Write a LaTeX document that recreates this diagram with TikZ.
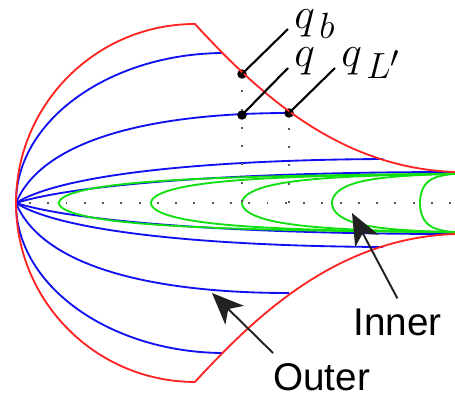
\documentclass[tikz,border=0pt]{standalone}
\usepackage{fontspec}
\newfontfamily\calloutfont{Liberation Sans}
\usetikzlibrary{arrows.meta}
\usepackage{xcolor}
\definecolor{boundred}{HTML}{FF2424}
\definecolor{outerblue}{HTML}{1010F0}
\definecolor{innergreen}{HTML}{10E010}
\definecolor{arrowgray}{HTML}{222222}

\begin{document}
\begin{tikzpicture}[x=0.02cm, y=-0.02cm,
    boundary/.style={draw=boundred, line width=1.05pt},
    outerpath/.style={draw=outerblue, line width=1.05pt},
    innerpath/.style={draw=innergreen, line width=1.05pt},
    axisdots/.style={draw=black!65, line width=1.1pt, dash pattern=on 1.1pt off 9.3pt, dash phase=3pt},
    qdot/.style={circle, fill=black, inner sep=0pt, minimum size=5.4pt},
    qlabel/.style={inner sep=0pt, font=\fontsize{24.88}{30}\selectfont},
    pointer/.style={draw=black, line width=1.2pt},
    callout/.style={inner sep=0pt, font=\calloutfont\fontsize{22}{26}\selectfont},
    calloutarrow/.style={draw=arrowgray, line width=1.1pt, -{Stealth[length=18pt, width=15pt, inset=5pt]}}]
  \useasboundingbox (0,0) rectangle (455,396);
  % Corners of the region
  \coordinate (O)  at (16,203);
  \coordinate (T)  at (195,24);
  \coordinate (TR) at (455,172);
  \coordinate (BR) at (455,234);
  \coordinate (E)  at (455,203);
  % Outer curves (blue) -- upper half
  \draw[outerpath] (O) .. controls (16,120) and (110,54)  .. (222,53);
  \draw[outerpath] (O) .. controls (42,140) and (150,113) .. (289,113);
  \draw[outerpath] (O) .. controls (60,175) and (200,160) .. (383,159);
  \draw[outerpath] (O) .. controls (80,183) and (250,172) .. (TR);
  % Outer curves (blue) -- lower half
  \draw[outerpath] (O) .. controls (16,286) and (110,352) .. (222,353);
  \draw[outerpath] (O) .. controls (42,266) and (150,293) .. (289,293);
  \draw[outerpath] (O) .. controls (60,231) and (200,246) .. (383,247);
  \draw[outerpath] (O) .. controls (80,223) and (250,234) .. (BR);
  % Inner curves (green)
  \draw[innerpath] plot[domain=-1:1, samples=81] ({59+396*\x*\x},  {203-31*tanh(1.75*\x)});
  \draw[innerpath] plot[domain=-1:1, samples=81] ({151+304*\x*\x}, {203-31*tanh(1.75*\x)});
  \draw[innerpath] plot[domain=-1:1, samples=81] ({242+213*\x*\x}, {203-31*tanh(1.75*\x)});
  \draw[innerpath] plot[domain=-1:1, samples=81] ({332+123*\x*\x}, {203-31*tanh(1.75*\x)});
  \draw[innerpath] plot[domain=-1:1, samples=81] ({420+35*\x*\x},  {203-31*tanh(1.75*\x)});
  % Points on the boundary
  \node[qdot] (qb)  at (242,74)  {};
  \node[qdot] (q)   at (242,115) {};
  \node[qdot] (qlp) at (289,113) {};
  % Dotted axis and drop lines
  \draw[axisdots] (O) -- (E);
  \draw[axisdots, dash phase=1.1pt] (qb.center)  -- (qb |- O);
  \draw[axisdots, dash phase=1.9pt] (qlp.center) -- (qlp |- O);
  % Boundary (red)
  \draw[boundary] (TR) .. controls (340,168) and (260,95) .. (T)
    arc[start angle=90, end angle=270, radius=3.58cm]
    .. controls (260,311) and (340,238) .. (BR);
  % Labels of the points
  \node[qlabel, anchor=base west] (lqb)  at (294,28) {$q_{\,b}$};
  \node[qlabel, anchor=base west] (lq)   at (294,66) {$q$};
  \node[qlabel, anchor=base west] (lqlp) at (341,66) {$q_{\,L'}$};
  \coordinate (qbend)  at (288,29);
  \coordinate (qend)   at (288,68);
  \coordinate (qlpend) at (335,68);
  \draw[pointer] (qb.center)  -- (qbend);
  \draw[pointer] (q.center)   -- (qend);
  \draw[pointer] (qlp.center) -- (qlpend);
  % Callouts
  \node[callout, anchor=base west] (linner) at (353,335) {Inner};
  \node[callout, anchor=base west] (louter) at (273,390) {Outer};
  \coordinate (innertip) at (352,213);
  \coordinate (outertip) at (212,293);
  \draw[calloutarrow] ([yshift=5.5pt]linner.north) -- (innertip);
  \draw[calloutarrow] ([yshift=5.5pt]louter.north west) -- (outertip);
\end{tikzpicture}
\end{document}
